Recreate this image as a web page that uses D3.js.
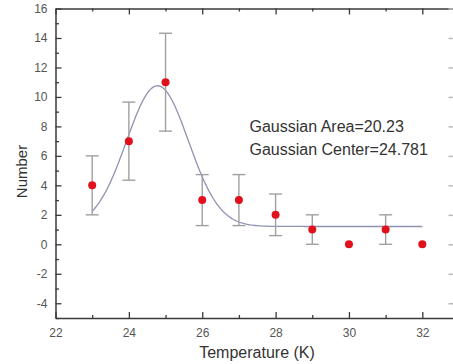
<!DOCTYPE html>
<html><head><meta charset="utf-8">
<script src="https://cdn.jsdelivr.net/npm/d3@7"></script>
<style>body{margin:0;background:#fff;}svg{display:block;}</style>
</head><body>
<svg id="c" width="453" height="364"></svg>
<script>
// data
const temperature = [23, 24, 25, 26, 27, 28, 29, 30, 31, 32];
const counts      = [4, 7, 11, 3, 3, 2, 1, 0, 1, 0];
const errors      = [2, 2.65, 3.32, 1.73, 1.73, 1.41, 1, 0, 1, 0];
// Gaussian fit parameters (Origin form: y0 + A/(w*sqrt(pi/2))*exp(-2(x-xc)^2/w^2))
const fitArea = 20.23, fitCenter = 24.781, fitWidth = 1.69, fitOffset = 1.21;
const fitRange = [23, 32];
const xTicks = [22, 24, 26, 28, 30, 32];
const yTicks = [-4, -2, 0, 2, 4, 6, 8, 10, 12, 14, 16];
const annotations = ["Gaussian Area=20.23", "Gaussian Center=24.781"];

const svg = d3.select("#c");
const x = d3.scaleLinear().domain([22, 32.85]).range([55.5, 453.5]);
const y = d3.scaleLinear().domain([-5, 16]).range([318, 8.5]);
const axisCol = "#3a3a3a", labCol = "#555";

// axes
const gBottom = svg.append("g").attr("transform", `translate(0,${y(-5)})`)
  .call(d3.axisBottom(x).tickValues(d3.range(22, 33, 1)).tickSizeInner(-6).tickSizeOuter(0).tickPadding(10)
    .tickFormat(d => xTicks.includes(d) ? d : ""));
const gTop = svg.append("g").attr("transform", `translate(0,${y(16)})`)
  .call(d3.axisTop(x).tickValues(d3.range(22, 33, 1)).tickSizeInner(-6).tickSizeOuter(0).tickFormat(""));
const gLeft = svg.append("g").attr("transform", `translate(${x(22)},0)`)
  .call(d3.axisLeft(y).tickValues(d3.range(-5, 17, 1)).tickSizeInner(-6).tickSizeOuter(0).tickPadding(8)
    .tickFormat(d => yTicks.includes(d) ? d : ""));
const gRight = svg.append("g").attr("transform", `translate(${x(32.85)},0)`)
  .call(d3.axisRight(y).tickValues(d3.range(-4, 17, 2)).tickSizeInner(-5).tickSizeOuter(0).tickFormat(""));

[gBottom, gTop, gLeft, gRight].forEach(g => {
  g.select(".domain").attr("stroke", axisCol).attr("stroke-width", 1.5);
  g.selectAll(".tick line").attr("stroke", axisCol).attr("stroke-width", 1.3);
  g.selectAll(".tick text").attr("fill", labCol).attr("font-family", "Liberation Sans, Arial, sans-serif").attr("font-size", 12);
});
// minor ticks shorter
gBottom.selectAll(".tick").filter(d => d % 2 !== 0).select("line").attr("y2", -3);
gTop.selectAll(".tick").filter(d => d % 2 !== 0).select("line").attr("y2", 3);
gLeft.selectAll(".tick").filter(d => d % 2 !== 0).select("line").attr("x2", 3.5);
gRight.select(".domain").attr("stroke", "none");
gRight.selectAll(".tick line").attr("stroke", "#bbb").attr("stroke-width", 1.5);

// gaussian fit curve
const gauss = t => fitOffset + fitArea / (fitWidth * Math.sqrt(Math.PI / 2)) * Math.exp(-2 * (t - fitCenter) ** 2 / (fitWidth * fitWidth));
const curveX = d3.range(fitRange[0], fitRange[1] + 0.001, 0.05);
svg.append("path").datum(curveX)
  .attr("d", d3.line().x(d => x(d)).y(d => y(gauss(d))))
  .attr("fill", "none").attr("stroke", "#8f93b3").attr("stroke-width", 1.3);

// error bars
const eb = svg.append("g").attr("stroke", "#a0a0a0").attr("stroke-width", 1.4);
temperature.forEach((t, i) => {
  if (!errors[i]) return;
  const cx = x(t), lo = y(counts[i] - errors[i]), hi = y(counts[i] + errors[i]);
  eb.append("line").attr("x1", cx).attr("x2", cx).attr("y1", lo).attr("y2", hi);
  eb.append("line").attr("x1", cx - 6.5).attr("x2", cx + 6.5).attr("y1", lo).attr("y2", lo);
  eb.append("line").attr("x1", cx - 6.5).attr("x2", cx + 6.5).attr("y1", hi).attr("y2", hi);
});

// points
svg.append("g").selectAll("circle").data(temperature).join("circle")
  .attr("cx", d => x(d)).attr("cy", (d, i) => y(counts[i])).attr("r", 4)
  .attr("fill", "#e0111b");

// annotations
svg.append("g").selectAll("text").data(annotations).join("text")
  .attr("x", 249.5).attr("y", (d, i) => 131.5 + i * 23)
  .attr("font-family", "Liberation Sans, Arial, sans-serif").attr("font-size", 16)
  .attr("fill", "#333").text(d => d);

// axis titles
svg.append("text").attr("x", 257).attr("y", 357.5).attr("text-anchor", "middle")
  .attr("font-family", "Liberation Sans, Arial, sans-serif").attr("font-size", 16).attr("fill", "#333")
  .text("Temperature (K)");
svg.append("text").attr("transform", "translate(26.5,171.5) rotate(-90)").attr("text-anchor", "middle")
  .attr("font-family", "Liberation Sans, Arial, sans-serif").attr("font-size", 15).attr("fill", "#333")
  .text("Number");
</script>
</body></html>
